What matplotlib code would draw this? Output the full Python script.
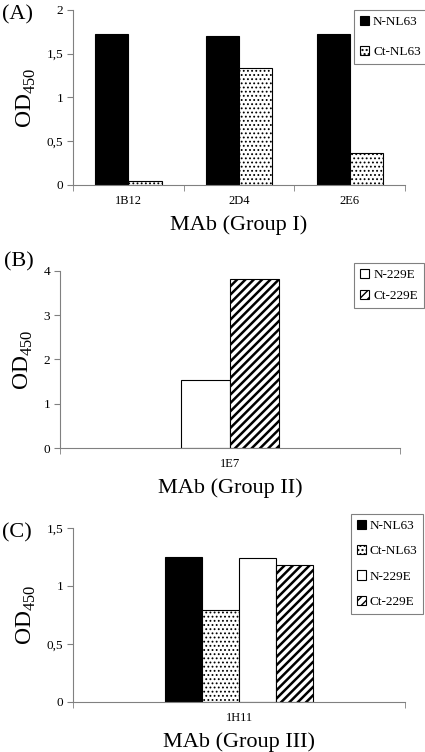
import numpy as np
import matplotlib
matplotlib.use('Agg')
from matplotlib import pyplot as plt

plt.rcParams['font.family'] = ['Liberation Serif', 'DejaVu Serif']
plt.rcParams['mathtext.fontset'] = 'custom'
plt.rcParams['mathtext.rm'] = 'Liberation Serif'

# panel A: Group I
groupA = ['1B12', '2D4', '2E6']
A_N_NL63 = [1.72, 1.70, 1.72]
A_Ct_NL63 = [0.05, 1.34, 0.36]

# panel B: Group II
groupB = ['1E7']
B_N_229E = [1.53]
B_Ct_229E = [3.82]

# panel C: Group III
groupC = ['1H11']
C_N_NL63 = [1.25]
C_Ct_NL63 = [0.79]
C_N_229E = [1.24]
C_Ct_229E = [1.18]

styles = {
    'N-NL63': dict(color='black', edgecolor='black'),
    'Ct-NL63': dict(color='white', edgecolor='black', hatch='....'),
    'N-229E': dict(color='white', edgecolor='black'),
    'Ct-229E': dict(color='white', edgecolor='black', hatch='////'),
}
hatch_lw = {'N-NL63': 1.0, 'Ct-NL63': 0.8, 'N-229E': 1.0, 'Ct-229E': 1.8}

fig = plt.figure(figsize=(4.25, 7.52), dpi=100)


def draw_bar(ax, xpos, vals, w, name):
    with plt.rc_context({'hatch.linewidth': hatch_lw[name]}):
        ax.bar(xpos, vals, w, label=name, lw=0.8, **styles[name])


def setup(ax, cats, ymax, yticks, yticklabels, xlabel, letter, lx, ly):
    ax.set_xlim(-0.5, len(cats) - 0.5)
    ax.set_ylim(0, ymax)
    ax.set_yticks(yticks)
    ax.set_yticklabels(yticklabels, fontsize=9.5)
    ax.set_xticks(np.arange(len(cats)))
    ax.set_xticklabels(cats, fontsize=9)
    ax.tick_params(axis='x', length=0, pad=7)
    ax.set_xticks(np.arange(len(cats) + 1) - 0.5, minor=True)
    ax.tick_params(axis='x', which='minor', length=4, color='#808080')
    ax.tick_params(axis='y', length=4, color='#808080', pad=3)
    for s in ['top', 'right']:
        ax.spines[s].set_visible(False)
    for s in ['left', 'bottom']:
        ax.spines[s].set_color('#808080')
    ax.set_ylabel(r'$\mathrm{OD}_{450}$', fontsize=17, labelpad=6)
    ax.set_xlabel(xlabel, fontsize=16, labelpad=6)
    ax.text(lx, ly, letter, transform=ax.transAxes, fontsize=16,
            va='center', ha='left')


def legend(ax, loc_xy, spacing):
    lg = ax.legend(loc='upper right', bbox_to_anchor=loc_xy, fontsize=9.5,
                   handlelength=0.7, handleheight=0.7, handletextpad=0.3,
                   borderpad=0.45, labelspacing=spacing, fancybox=False,
                   edgecolor='#808080', framealpha=1)
    lg.get_frame().set_linewidth(0.8)


# (A)
axA = fig.add_axes([0.172, 0.754, 0.781, 0.233])
x = np.arange(len(groupA))
w = 0.3
draw_bar(axA, x - w / 2, A_N_NL63, w, 'N-NL63')
draw_bar(axA, x + w / 2, A_Ct_NL63, w, 'Ct-NL63')
setup(axA, groupA, 2, [0, 0.5, 1, 1.5, 2], ['0', '0,5', '1', '1,5', '2'],
      'MAb (Group I)', '(A)', -0.215, 0.97)
legend(axA, (1.085, 1.035), 1.3)

# (B)
axB = fig.add_axes([0.141, 0.404, 0.800, 0.236])
x = np.arange(len(groupB))
w = 0.144
draw_bar(axB, x - w / 2, B_N_229E, w, 'N-229E')
draw_bar(axB, x + w / 2, B_Ct_229E, w, 'Ct-229E')
setup(axB, groupB, 4, [0, 1, 2, 3, 4], ['0', '1', '2', '3', '4'],
      'MAb (Group II)', '(B)', -0.165, 1.05)
legend(axB, (1.09, 1.08), 0.65)

# (C)
axC = fig.add_axes([0.172, 0.0665, 0.781, 0.2314])
x = np.arange(len(groupC))
w = 0.112
series = [('N-NL63', C_N_NL63), ('Ct-NL63', C_Ct_NL63),
          ('N-229E', C_N_229E), ('Ct-229E', C_Ct_229E)]
for i, (name, vals) in enumerate(series):
    draw_bar(axC, x + (i - 1.5) * w, vals, w, name)
setup(axC, groupC, 1.5, [0, 0.5, 1, 1.5], ['0', '0,5', '1', '1,5'],
      'MAb (Group III)', '(C)', -0.215, 0.97)
legend(axC, (1.075, 1.12), 1.0)

fig.savefig('out.png', dpi=100)
